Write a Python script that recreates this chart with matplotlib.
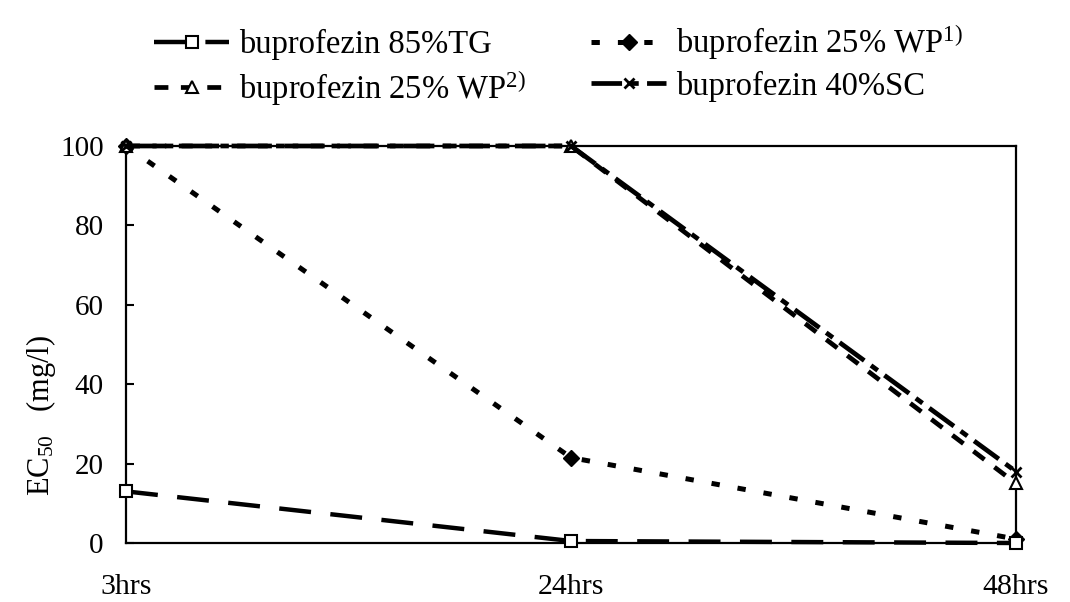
import matplotlib

matplotlib.use("Agg")
import matplotlib.pyplot as plt
import numpy as np

# EC50 of buprofezin formulations over exposure time
times = ["3hrs", "24hrs", "48hrs"]
tg_85 = [13, 0.5, 0]
wp_25_1 = [100, 21.5, 1]
wp_25_2 = [100, 100, 15]
sc_40 = [100, 100, 18]

label_tg = "buprofezin 85%TG"
label_wp1 = "buprofezin 25% WP$^{1)}$"
label_wp2 = "buprofezin 25% WP$^{2)}$"
label_sc = "buprofezin 40%SC"
y_ticks = [0, 20, 40, 60, 80, 100]

plt.rcParams["font.family"] = ["Liberation Serif", "DejaVu Serif"]
plt.rcParams["mathtext.fontset"] = "custom"
plt.rcParams["mathtext.rm"] = "Liberation Serif"
plt.rcParams["mathtext.default"] = "regular"
plt.rcParams["lines.scale_dashes"] = False

fig = plt.figure(figsize=(10.7, 6.02), dpi=100)
ax = fig.add_axes([0.1178, 0.098, 0.8317, 0.6595])

x = np.arange(len(times))

l_tg, = ax.plot(x, tg_85, color="black", lw=3.2, dashes=(23, 14),
                marker="s", ms=9, mfc="white", mec="black", mew=1.5,
                clip_on=False, zorder=4)
l_wp1, = ax.plot(x, wp_25_1, color="black", lw=3.6, dashes=(6, 13),
                 marker="D", ms=8, mfc="black", mec="black",
                 clip_on=False, zorder=3)
l_wp2, = ax.plot(x, wp_25_2, color="black", lw=3.4, dashes=(10, 9),
                 marker="^", ms=9, mfc="white", mec="black", mew=1.5,
                 clip_on=False, zorder=3)
l_sc, = ax.plot(x, sc_40, color="black", lw=3.4, dashes=(22, 6, 6, 6),
                marker="x", ms=7, mec="black", mew=2,
                clip_on=False, zorder=5)

ax.set_xlim(0, len(times) - 1)
ax.set_ylim(0, 100)
ax.set_xticks(x)
ax.set_xticklabels(times, fontsize=21.5)
ax.set_yticks(y_ticks)
ax.tick_params(axis="y", direction="in", length=6, width=1.5,
               labelsize=21, pad=16)
ax.tick_params(axis="x", length=0, pad=22)
for side in ["left", "bottom", "right", "top"]:
    ax.spines[side].set_linewidth(1.6)
ax.set_ylabel("EC$_{50}$   (mg/l)", fontsize=22)
ax.yaxis.set_label_coords(-0.077, 0.32)

# column-wise fill: row 1 = TG, WP1; row 2 = WP2, SC
fig.legend(
    [l_tg, l_wp2, l_wp1, l_sc],
    [label_tg, label_wp2, label_wp1, label_sc],
    loc="upper center",
    bbox_to_anchor=(0.522, 1.01),
    ncol=2,
    frameon=False,
    fontsize=23.5,
    handlelength=2.3,
    handletextpad=0.3,
    columnspacing=2.0,
    labelspacing=0.25,
)

fig.savefig("out.png", dpi=100)
plt.close(fig)
